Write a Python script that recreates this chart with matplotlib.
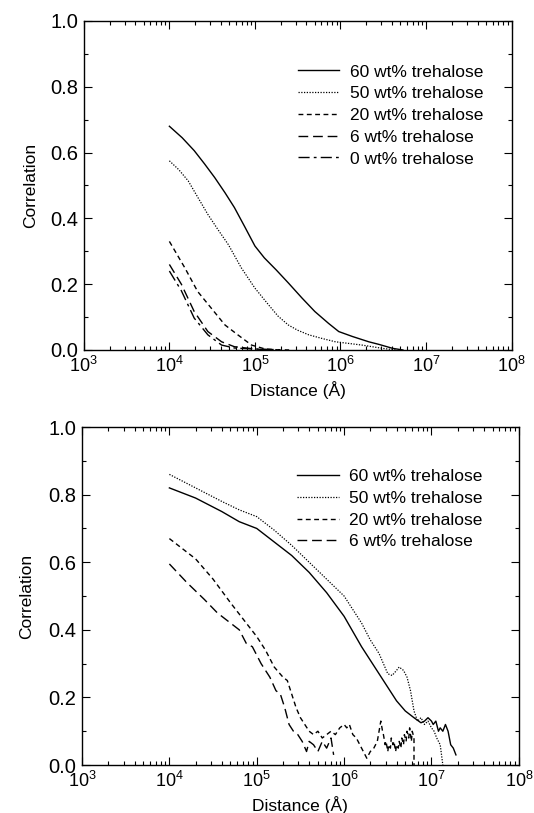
import numpy as np
import matplotlib
matplotlib.use('Agg')
from matplotlib import pyplot as plt
from matplotlib.ticker import LogLocator, MultipleLocator, FixedLocator, FixedFormatter

plt.rcParams['font.family'] = ['Liberation Sans', 'DejaVu Sans']
plt.rcParams['mathtext.fontset'] = 'custom'
plt.rcParams['mathtext.rm'] = 'Liberation Sans'
plt.rcParams['mathtext.it'] = 'Liberation Sans'

# ---- top panel: log10(distance), correlation ----
top_60_logx = [4.0, 4.15, 4.29, 4.41, 4.53, 4.65, 4.76, 4.88, 5.0, 5.11, 5.25, 5.39, 5.55, 5.7, 5.86, 5.98, 6.14,
               6.33, 6.45, 6.61, 6.73]
top_60_y = [0.68, 0.645, 0.606, 0.566, 0.524, 0.478, 0.433, 0.375, 0.316, 0.28, 0.243, 0.204, 0.158, 0.117, 0.081,
            0.056, 0.041, 0.025, 0.017, 0.005, 0.0]
top_50_logx = [4.0, 4.11, 4.22, 4.33, 4.45, 4.57, 4.69, 4.84, 5.0, 5.16, 5.27, 5.39, 5.5, 5.63, 5.8, 5.94, 6.25,
               6.49, 6.65]
top_50_y = [0.575, 0.548, 0.514, 0.465, 0.412, 0.365, 0.32, 0.25, 0.188, 0.137, 0.103, 0.076, 0.06, 0.046, 0.034,
            0.025, 0.015, 0.005, 0.0]
top_20_logx = [4.0, 4.18, 4.33, 4.49, 4.65, 4.8, 4.96, 5.12, 5.3]
top_20_y = [0.33, 0.25, 0.178, 0.127, 0.076, 0.046, 0.015, 0.003, 0.0]
top_6_logx = [4.0, 4.14, 4.29, 4.45, 4.61, 4.76, 5.0, 5.2]
top_6_y = [0.26, 0.2, 0.117, 0.056, 0.025, 0.01, 0.003, 0.0]
top_0_logx = [4.0, 4.14, 4.29, 4.45, 4.61, 4.76, 5.0, 5.4]
top_0_y = [0.24, 0.18, 0.097, 0.046, 0.015, 0.006, 0.003, 0.0]

# ---- bottom panel ----
bot_60_logx = [4.0, 4.3, 4.6, 4.8, 5.0, 5.2, 5.4, 5.6, 5.8, 6.0, 6.2, 6.3, 6.4, 6.5, 6.6, 6.7, 6.8, 6.88,
               6.92, 6.96, 7.0, 7.02, 7.05, 7.08, 7.1, 7.13, 7.16, 7.19, 7.22, 7.25, 7.28]
bot_60_y = [0.82, 0.79, 0.75, 0.72, 0.70, 0.66, 0.62, 0.57, 0.51, 0.44, 0.35, 0.31, 0.27, 0.23, 0.19, 0.16, 0.14, 0.125,
            0.13, 0.14, 0.13, 0.12, 0.13, 0.10, 0.11, 0.10, 0.12, 0.10, 0.06, 0.05, 0.03]
bot_50_logx = [4.0, 4.3, 4.6, 4.8, 5.0, 5.2, 5.4, 5.6, 5.8, 6.0, 6.2, 6.3, 6.4, 6.45, 6.5, 6.55, 6.6, 6.63,
               6.68, 6.72, 6.76, 6.8, 6.84, 6.88, 6.92, 6.96, 7.0, 7.03, 7.06, 7.1, 7.12, 7.13]
bot_50_y = [0.86, 0.82, 0.78, 0.755, 0.735, 0.695, 0.65, 0.60, 0.55, 0.50, 0.42, 0.37, 0.33, 0.30, 0.27, 0.265, 0.28, 0.29,
            0.28, 0.26, 0.22, 0.16, 0.13, 0.14, 0.12, 0.13, 0.11, 0.10, 0.08, 0.06, 0.02, 0.0]
bot_20_logx = [4.0, 4.2, 4.3, 4.5, 4.7, 4.85, 5.0, 5.1, 5.2, 5.3, 5.35, 5.4, 5.45, 5.5, 5.55, 5.6, 5.65, 5.7,
               5.75, 5.8, 5.85, 5.9, 5.95, 6.0, 6.03, 6.06, 6.1, 6.14, 6.18, 6.22, 6.26, 6.3, 6.34, 6.38,
               6.40, 6.42, 6.44, 6.45, 6.47, 6.48, 6.50, 6.51, 6.53, 6.54, 6.56, 6.57, 6.59, 6.60, 6.62,
               6.63, 6.65, 6.66, 6.68, 6.69, 6.71, 6.72, 6.74, 6.75, 6.77, 6.78, 6.80, 6.80]
bot_20_y = [0.67, 0.63, 0.61, 0.55, 0.48, 0.43, 0.38, 0.34, 0.29, 0.26, 0.25, 0.21, 0.17, 0.14, 0.12, 0.10, 0.09, 0.10,
            0.08, 0.09, 0.10, 0.09, 0.11, 0.12, 0.11, 0.12, 0.09, 0.08, 0.06, 0.04, 0.02, 0.04, 0.05, 0.07,
            0.10, 0.13, 0.10, 0.09, 0.06, 0.07, 0.04, 0.06, 0.05, 0.08, 0.06, 0.07, 0.04, 0.06, 0.05,
            0.07, 0.05, 0.08, 0.06, 0.09, 0.07, 0.10, 0.08, 0.11, 0.07, 0.10, 0.08, 0.0]
bot_6_logx = [4.0, 4.2, 4.4, 4.55, 4.7, 4.8, 4.88, 4.95, 5.05, 5.15, 5.22, 5.27, 5.32, 5.37, 5.42, 5.47, 5.52,
              5.57, 5.6, 5.65, 5.7, 5.75, 5.8, 5.85, 5.88]
bot_6_y = [0.595, 0.54, 0.49, 0.45, 0.42, 0.40, 0.36, 0.35, 0.30, 0.26, 0.22, 0.21, 0.17, 0.12, 0.10, 0.09, 0.07,
           0.04, 0.07, 0.06, 0.04, 0.07, 0.05, 0.08, 0.03]

labels = ['60 wt% trehalose', '50 wt% trehalose', '20 wt% trehalose', '6 wt% trehalose', '0 wt% trehalose']
styles = ['-', (0, (1, 1.2)), (0, (3.5, 2.5)), (0, (7, 3.5)), (0, (8, 3, 2, 3))]
widths = [1.0, 0.9, 1.0, 1.0, 1.0]

xticks = [1e3, 1e4, 1e5, 1e6, 1e7, 1e8]
xticklabels = ['$10^{3}$', '$10^{4}$', '$10^{5}$', '$10^{6}$', '$10^{7}$', '$10^{8}$']


def style_axes(ax, ypad):
    ax.set_xscale('log')
    ax.set_xlim(1e3, 1e8)
    ax.set_ylim(0, 1.0)
    ax.xaxis.set_major_locator(FixedLocator(xticks))
    ax.xaxis.set_major_formatter(FixedFormatter(xticklabels))
    ax.xaxis.set_minor_locator(LogLocator(base=10, subs=np.arange(2, 10), numticks=20))
    ax.yaxis.set_major_locator(MultipleLocator(0.2))
    ax.yaxis.set_minor_locator(MultipleLocator(0.1))
    ax.yaxis.set_major_formatter(matplotlib.ticker.FormatStrFormatter('%.1f'))
    ax.tick_params(which='both', direction='in', top=True, right=True, width=0.8)
    ax.tick_params(which='major', length=6)
    ax.tick_params(which='minor', length=3)
    ax.tick_params(axis='x', labelsize=13, pad=4)
    ax.tick_params(axis='y', labelsize=14.5, pad=4)
    for s in ax.spines.values():
        s.set_linewidth(1.0)
    ax.set_xlabel('Distance (Å)', fontsize=12.5, labelpad=4)
    ax.set_ylabel('Correlation', fontsize=12.5, labelpad=ypad)


fig = plt.figure(figsize=(5.34, 8.13), dpi=100)
ax1 = fig.add_axes([0.157, 0.5695, 0.801, 0.4047])
ax2 = fig.add_axes([0.1536, 0.059, 0.818, 0.4157])

top = [(top_60_logx, top_60_y), (top_50_logx, top_50_y), (top_20_logx, top_20_y),
       (top_6_logx, top_6_y), (top_0_logx, top_0_y)]
for i, (lx, y) in enumerate(top):
    ax1.plot(np.power(10.0, lx), y, linestyle=styles[i], color='black', lw=widths[i], label=labels[i])

bot = [(bot_60_logx, bot_60_y), (bot_50_logx, bot_50_y), (bot_20_logx, bot_20_y), (bot_6_logx, bot_6_y)]
for i, (lx, y) in enumerate(bot):
    ax2.plot(np.power(10.0, lx), y, linestyle=styles[i], color='black', lw=widths[i], label=labels[i])

for ax, anchor, ypad in [(ax1, (0.50, 0.868), 9), (ax2, (0.492, 0.876), 10)]:
    style_axes(ax, ypad)
    ax.legend(loc='upper left', bbox_to_anchor=anchor, frameon=False, fontsize=12.5,
              handlelength=2.4, handletextpad=0.6, labelspacing=0.38, borderpad=0, borderaxespad=0)

fig.savefig('out.png', dpi=100)
